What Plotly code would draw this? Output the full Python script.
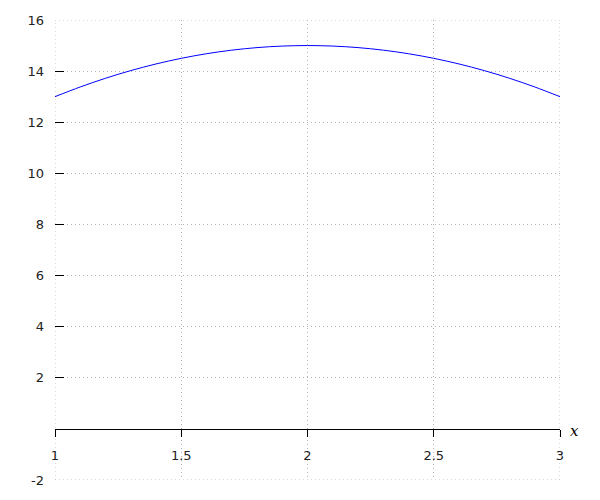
import plotly.graph_objects as go

x_vals = [1.0, 1.1, 1.2, 1.3, 1.4, 1.5, 1.6, 1.7, 1.8, 1.9, 2.0,
          2.1, 2.2, 2.3, 2.4, 2.5, 2.6, 2.7, 2.8, 2.9, 3.0]
y_vals = [13.0, 13.38, 13.72, 14.02, 14.28, 14.5, 14.68, 14.82, 14.92, 14.98, 15.0,
          14.98, 14.92, 14.82, 14.68, 14.5, 14.28, 14.02, 13.72, 13.38, 13.0]

x_ticks = [1, 1.5, 2, 2.5, 3]
x_tick_text = ["1", "1.5", "2", "2.5", "3"]
y_ticks = [-2, 2, 4, 6, 8, 10, 12, 14, 16]
y_tick_text = ["-2", "2", "4", "6", "8", "10", "12", "14", "16"]

x_min, x_max = 1, 3
y_min, y_max = -2, 16

grid_col = "#b4b4b4"
grid_dash = "1px,3px"

fig = go.Figure()
fig.add_trace(go.Scatter(x=x_vals, y=y_vals, mode="lines",
                         line=dict(color="#0000ff", width=1, shape="spline"),
                         showlegend=False, hoverinfo="skip"))
fig.add_trace(go.Scatter(x=[x_min, x_max], y=[None, None], xaxis="x2", yaxis="y",
                         mode="lines", showlegend=False, hoverinfo="skip"))

# edge grid lines (plotly omits gridlines on the plot-area border)
edge_line = dict(color=grid_col, width=1, dash=grid_dash)
shapes = [
    dict(type="line", xref="x", yref="paper", x0=x_min, x1=x_min, y0=0, y1=1, line=edge_line, layer="below"),
    dict(type="line", xref="x", yref="paper", x0=x_max, x1=x_max, y0=0, y1=1, line=edge_line, layer="below"),
    dict(type="line", xref="paper", yref="y", x0=0, x1=1, y0=y_min, y1=y_min, line=edge_line, layer="below"),
    dict(type="line", xref="paper", yref="y", x0=0, x1=1, y0=y_max, y1=y_max, line=edge_line, layer="below"),
]

fig.update_layout(
    width=600, height=500,
    margin=dict(l=55, r=40, t=20, b=20),
    paper_bgcolor="white", plot_bgcolor="white",
    font=dict(family="DejaVu Sans", size=13, color="#222222"),
    shapes=shapes,
    xaxis=dict(
        range=[x_min, x_max], tickvals=x_ticks, ticktext=x_tick_text,
        showgrid=True, gridcolor=grid_col, griddash=grid_dash, gridwidth=1,
        zeroline=False, showline=False, showticklabels=False,
        ticks="", automargin=False,
    ),
    xaxis2=dict(
        range=[x_min, x_max], tickvals=x_ticks, ticktext=x_tick_text,
        overlaying="x", showgrid=False,
        zeroline=False, showline=True, linecolor="black", linewidth=1,
        ticks="outside", ticklen=7, tickcolor="black", tickwidth=1,
        anchor="free", position=(0 - y_min) / (y_max - y_min),
        ticklabelstandoff=8, automargin=False, side="bottom",
    ),
    yaxis=dict(
        range=[y_min, y_max], tickvals=y_ticks, ticktext=y_tick_text,
        showgrid=True, gridcolor=grid_col, griddash=grid_dash, gridwidth=1,
        zeroline=False, showline=False,
        ticks="inside", ticklen=9, tickcolor="black", tickwidth=1,
        ticklabelstandoff=10, automargin=False,
    ),
    annotations=[dict(
        x=x_max, y=0, xref="x", yref="y", text="x", showarrow=False,
        xanchor="left", yanchor="middle", xshift=8, yshift=-2,
        font=dict(family="DejaVu Serif", size=15, style="italic", color="black"),
    )],
)

fig.write_html("out.html", config={"displayModeBar": False},
               post_script="document.body.style.margin='0';")
